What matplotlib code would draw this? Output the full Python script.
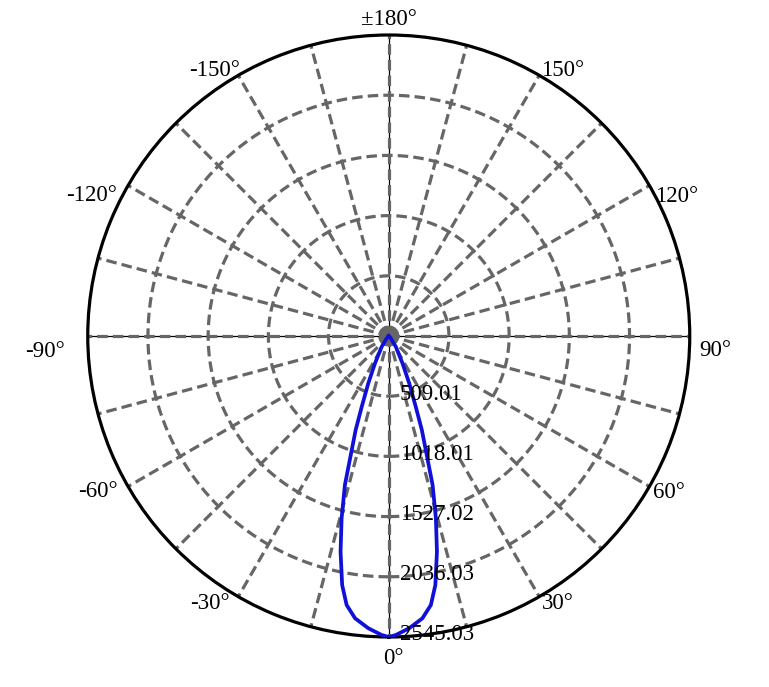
import numpy as np
import matplotlib
matplotlib.use('Agg')
import matplotlib.pyplot as plt
from matplotlib.transforms import ScaledTranslation

# ---- data ----
beam_angles = [0, 1.35, 4.0, 6.8, 8.9, 10.6, 12.6, 14.5, 16.4, 17.8, 19.4, 20.9, 23.4, 26.7, 33.4, 40, 50, 60, 90]
beam_intensity = [2545.03, 2529, 2477, 2404, 2302, 2142, 1868, 1592, 1313, 1042, 842, 640, 436, 259, 108, 30, 5, 1, 0]
r_ticks = [509.01, 1018.01, 1527.02, 2036.03, 2545.03]
r_tick_labels = ["509.01", "1018.01", "1527.02", "2036.03", "2545.03"]
ang_ticks = [0, 30, 60, 90, 120, 150, 180, -150, -120, -90, -60, -30]
ang_tick_labels = ["0°", "30°", "60°", "90°", "120°", "150°", "±180°",
                   "-150°", "-120°", "-90°", "-60°", "-30°"]

# ---- layout (label placement: display angle, radius factor) ----
lab_disp_ang = [0.75, 32.3, 60.9, 87.4, 115.9, 146.7, 180, -146.7, -115.2, -87.5, -61.8, -33.7]
lab_rfac = [1.073, 1.053, 1.066, 1.085, 1.064, 1.054, 1.053, 1.054, 1.093, 1.143, 1.096, 1.07]

plt.rcParams['font.family'] = ['Liberation Serif', 'DejaVu Serif']
W, H = 769, 687
fig = plt.figure(figsize=(W / 100, H / 100), dpi=100)
cx, cy, rad = 388.75, 336, 301
ax = fig.add_axes([(cx - rad) / W, (H - cy - rad) / H, 2 * rad / W, 2 * rad / H], projection='polar')
ax.set_theta_zero_location('S')
ax.set_theta_direction(1)
R = r_ticks[-1]
ax.set_ylim(0, R)
ax.set_xticks([])
ax.set_yticks([])
ax.grid(False)
ax.spines['polar'].set_color('black')
ax.spines['polar'].set_linewidth(2.3)

grey = '#666666'
dash = (3.3, 1.6)

# thin black axis lines
for a in [0, 90]:
    t = np.deg2rad(a)
    ax.plot([t, t], [0, R], color='black', lw=0.9, zorder=1)
    ax.plot([t + np.pi, t + np.pi], [0, R], color='black', lw=0.9, zorder=1)

# spokes
for a in range(0, 360, 15):
    t = np.deg2rad(a)
    ax.plot([t, t], [0, R], color=grey, lw=2.3, dashes=dash, zorder=2)

# rings
th = np.linspace(0, 2 * np.pi, 721)
for r in r_ticks[:-1]:
    ax.plot(th, np.full_like(th, r), color=grey, lw=2.3, dashes=dash, zorder=2)

# curve (symmetric beam)
ang_full = [-a for a in beam_angles[::-1]] + beam_angles[1:]
val_full = beam_intensity[::-1] + beam_intensity[1:]
ax.plot(np.deg2rad(ang_full), val_full, color='#1010d8', lw=2.7, zorder=4,
        solid_joinstyle='round')

# radial labels
off = ScaledTranslation(8 / 72, 1.5 / 72, fig.dpi_scale_trans)
for r, lab in zip(r_ticks, r_tick_labels):
    ax.text(0, r, lab, transform=ax.transData + off, ha='left', va='center',
            fontsize=16.5, color='black', zorder=5, clip_on=False)

# angular labels
for a, lab, da, f in zip(ang_ticks, ang_tick_labels, lab_disp_ang, lab_rfac):
    ax.text(np.deg2rad(da), R * f, lab, ha='center', va='center', fontsize=16.5,
            color='black', clip_on=False)

fig.savefig('out.png', dpi=100)
